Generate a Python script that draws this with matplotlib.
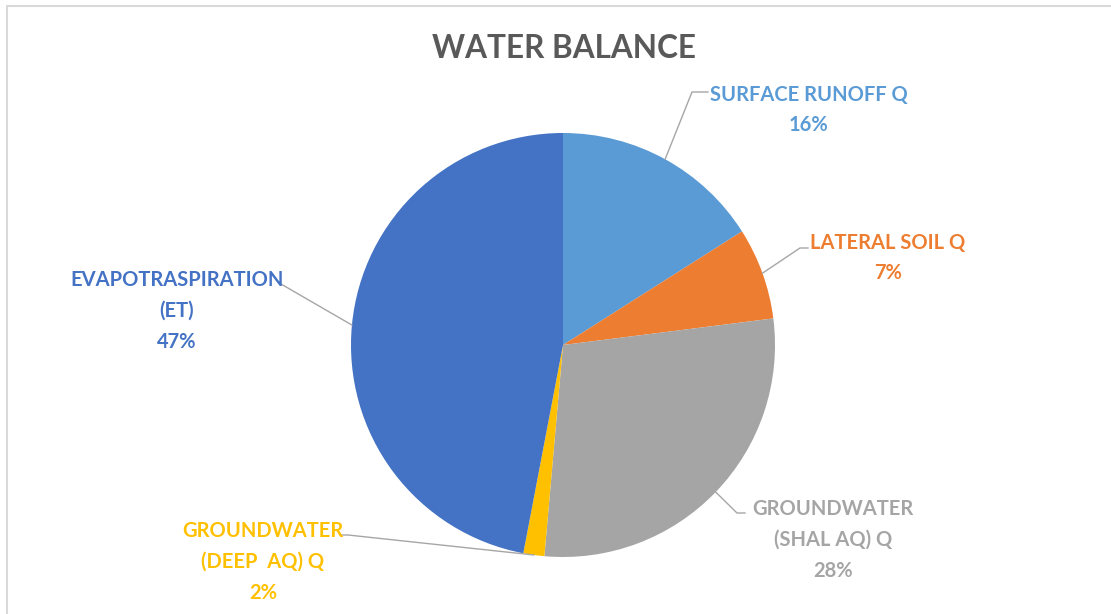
import numpy as np
import matplotlib.pyplot as plt

# slice data (clockwise from top)
names = ['SURFACE RUNOFF Q', 'LATERAL SOIL Q', 'GROUNDWATER\n(SHAL AQ) Q',
         'GROUNDWATER\n(DEEP  AQ) Q', 'EVAPOTRASPIRATION\n(ET)']
shares = [16.0, 7.0, 28.4, 1.6, 47.0]
pct_labels = ['16%', '7%', '28%', '2%', '47%']
colors = ['#5B9BD5', '#ED7D31', '#A5A5A5', '#FFC000', '#4472C4']

# label anchor (text centre) and leader elbow, in pixel coords (y down)
label_pos = [(809, 110), (888, 258), (833, 540), (263, 562), (177, 311)]
elbows = [(692, 92), (800, 248), (737, 513), (348, 535), (281, 284)]
line_end = [(708, 92), (808, 248), (745, 513), (340, 535), (281, 284)]

W, H = 1111, 614
fig = plt.figure(figsize=(W / 100, H / 100), dpi=100)
ax = fig.add_axes([0, 0, 1, 1])

cx, cy, r = 563, 345, 212
# y axis is flipped, so counterclock=True from -90 runs clockwise from the top on screen
wedges, _ = ax.pie(shares, colors=colors, startangle=-90, counterclock=True,
                   center=(cx, cy), radius=r, frame=True,
                   wedgeprops=dict(linewidth=0))
ax.set_xlim(0, W)
ax.set_ylim(H, 0)
ax.set_aspect('equal')
ax.axis('off')

for w, name, pct, col, pos, el, le in zip(wedges, names, pct_labels, colors,
                                          label_pos, elbows, line_end):
    mid = np.deg2rad((w.theta1 + w.theta2) / 2)
    ex, ey = cx + r * np.cos(mid), cy + r * np.sin(mid)
    ax.plot([ex, el[0], le[0]], [ey, el[1], le[1]], color='#A6A6A6', lw=1.0)
    ax.text(pos[0], pos[1], name + '\n' + pct, color=col, ha='center', va='center',
            fontsize=14.5, fontweight='bold', family='Lato', linespacing=1.68)

ax.text(W / 2 + 8, 48, 'WATER BALANCE', color='#595959', ha='center', va='center',
        fontsize=22.7, fontweight='bold', family='Lato')

# chart border
ax.plot([7, 7, W], [H, 6, 6], color='#D9D9D9', lw=1.5)

fig.savefig('out.png', dpi=100)
